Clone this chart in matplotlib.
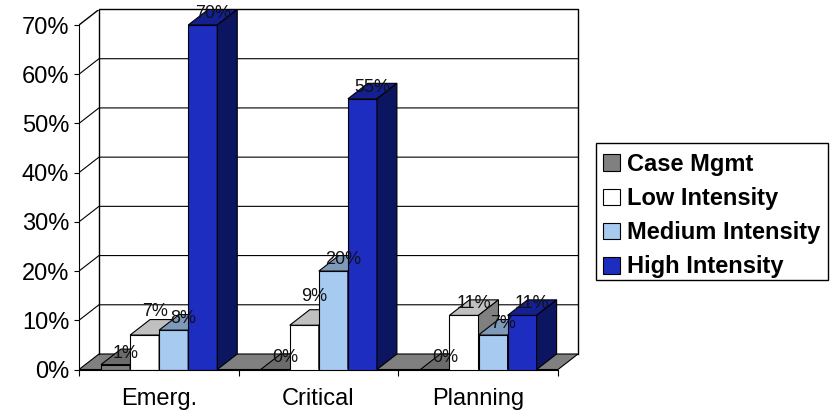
import matplotlib
matplotlib.use('Agg')
import matplotlib.pyplot as plt
from matplotlib.patches import Patch, Polygon, Rectangle

plt.rcParams['font.family'] = ['Liberation Sans', 'DejaVu Sans']

categories = ['Emerg.', 'Critical', 'Planning']
series = ['Case Mgmt', 'Low Intensity', 'Medium Intensity', 'High Intensity']
case_mgmt = [1, 0, 0]
low = [7, 9, 11]
medium = [8, 20, 7]
high = [70, 55, 11]
yticks = [0, 10, 20, 30, 40, 50, 60, 70]

values = [case_mgmt, low, medium, high]
front = ['#808080', '#ffffff', '#a6caf0', '#1c2dc0']
top = ['#6c6c6c', '#c0c0c0', '#7f9ab8', '#14208f']
side = ['#606060', '#808080', '#6d89a8', '#0c1560']

# fake 3d depth, in data units
dx = 0.125
dy = 3.15
bar_w = 0.182
start = 0.138

W, H = 836, 413
fig = plt.figure(figsize=(W / 100, H / 100), dpi=100)
ax = fig.add_axes([79 / W, 1 - 369.5 / H, (578 - 79) / W, 360 / H])
ax.set_xlim(0, 3 + dx)
ax.set_ylim(0, 70 + dy)

# floor and walls
ax.add_patch(Polygon([(0, 0), (3, 0), (3 + dx, dy), (dx, dy)], fc='#808080', ec='black', lw=0.8, zorder=1))
ax.plot([dx, dx, 3 + dx, 3 + dx], [dy, 70 + dy, 70 + dy, dy], color='black', lw=1, zorder=1, clip_on=False)
ax.plot([0, dx], [70, 70 + dy], color='black', lw=1, zorder=1)
for t in yticks[1:-1]:
    ax.plot([0, dx, 3 + dx], [t, t + dy, t + dy], color='black', lw=0.8, zorder=1)

# these two labels sit higher than the others in the original
nudge = {(1, 0): 2.5, (1, 1): 3.5}

for g in range(3):
    for s in range(4):
        v = values[s][g]
        x0 = g + start + s * bar_w
        x1 = x0 + bar_w
        z = 2 + g + s * 0.1
        ax.bar(x0, v, bar_w, align='edge', color=front[s], edgecolor='black', lw=0.8, zorder=z)
        ax.add_patch(Polygon([(x0, v), (x1, v), (x1 + dx, v + dy), (x0 + dx, v + dy)],
                             fc=top[s], ec='black', lw=0.8, zorder=z))
        ax.add_patch(Polygon([(x1, 0), (x1 + dx, dy), (x1 + dx, v + dy), (x1, v)],
                             fc=side[s], ec='black', lw=0.8, zorder=z))
        ax.text((x0 + x1) / 2 + dx / 2, v + dy - 0.8 + nudge.get((s, g), 0), '%d%%' % v,
                ha='center', va='center', fontsize=13, color='#111111', zorder=10, clip_on=False)

for name in ['top', 'right']:
    ax.spines[name].set_visible(False)
ax.spines['left'].set_bounds(0, 70)
ax.spines['bottom'].set_bounds(0, 3)
ax.set_yticks(yticks)
ax.set_yticklabels(['%d%%' % t for t in yticks], fontsize=17)
ax.set_xticks([0, 1, 2, 3])
ax.set_xticklabels([])
ax.set_xticks([0.5, 1.5, 2.5], minor=True)
ax.set_xticklabels(categories, minor=True, fontsize=17)
ax.tick_params(axis='x', which='minor', length=0, pad=13)
ax.tick_params(axis='x', which='major', length=4.5, width=0.8)
ax.tick_params(axis='y', length=3.5, width=0.8, pad=3.5)
ax.patch.set_visible(False)

# legend frame drawn apart, its padding is not even top to bottom
fig.add_artist(Rectangle((596 / W, 1 - 280 / H), 232 / W, 137 / H, transform=fig.transFigure,
                         fc='white', ec='black', lw=1))
handles = [Patch(fc=front[i], ec='black', lw=0.8) for i in range(4)]
leg = fig.legend(handles, series, loc='upper left', bbox_to_anchor=(596 / W, 1 - 146 / H),
                 frameon=False,
                 prop={'family': 'Liberation Sans', 'weight': 'bold', 'size': 17},
                 borderaxespad=0, borderpad=0.3, handlelength=0.72, handleheight=0.72,
                 handletextpad=0.3, labelspacing=0.47)

fig.savefig('out.png', dpi=100)
